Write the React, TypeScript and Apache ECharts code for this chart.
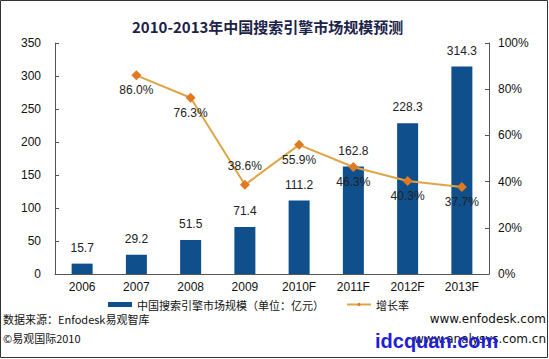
import React, { useEffect, useRef } from "react";
import * as echarts from "echarts";

const categories = ["2006", "2007", "2008", "2009", "2010F", "2011F", "2012F", "2013F"];
const marketSize = [15.7, 29.2, 51.5, 71.4, 111.2, 162.8, 228.3, 314.3];
const growthRate = [null, 86.0, 76.3, 38.6, 55.9, 46.3, 40.3, 37.7];
const growthLabelPos = ["bottom", "bottom", "bottom", "top", "bottom", "bottom", "bottom", "bottom"];
const leftTicks = [0, 50, 100, 150, 200, 250, 300, 350];
const rightTicks = [0, 20, 40, 60, 80, 100];

const FONT = "Liberation Sans, Arial, sans-serif";
const CJK = "Noto Sans CJK SC, sans-serif";
const WIDE = "DejaVu Sans, sans-serif";

export default function App() {
  const ref = useRef<HTMLDivElement>(null);
  useEffect(() => {
    const chart = echarts.init(ref.current!, null, { renderer: "svg" });
    chart.setOption({
      animation: false,
      backgroundColor: "#ffffff",
      title: {
        text: "2010-2013年中国搜索引擎市场规模预测",
        left: 127,
        top: 14,
        textStyle: { fontFamily: CJK, fontSize: 15, fontWeight: "bold", color: "#1c2248" },
      },
      grid: { left: 55, right: 60, top: 43, bottom: 85 },
      legend: {
        top: 294,
        left: 103,
        itemGap: 22,
        textStyle: { fontFamily: CJK, fontSize: 11, color: "#111" },
        data: [
          { name: "中国搜索引擎市场规模（单位：亿元）", icon: "rect", itemStyle: { color: "#0f4f8c" } },
          { name: "增长率" },
        ],
        itemWidth: 24,
        itemHeight: 5,
      },
      xAxis: {
        type: "category",
        data: categories,
        axisLine: { lineStyle: { color: "#555" } },
        axisTick: { inside: true, length: 4, lineStyle: { color: "#555" } },
        axisLabel: { fontFamily: FONT, fontSize: 12, color: "#111", margin: 7 },
      },
      yAxis: [
        {
          type: "value",
          min: leftTicks[0],
          max: leftTicks[leftTicks.length - 1],
          interval: 50,
          axisLine: { show: true, lineStyle: { color: "#555" } },
          axisTick: { show: true, inside: true, length: 4, lineStyle: { color: "#555" } },
          splitLine: { show: false },
          axisLabel: { fontFamily: FONT, fontSize: 12, color: "#111", margin: 14 },
        },
        {
          type: "value",
          min: rightTicks[0],
          max: rightTicks[rightTicks.length - 1],
          interval: 20,
          position: "right",
          axisLine: { show: true, lineStyle: { color: "#555" } },
          axisTick: { show: true, inside: true, length: 4, lineStyle: { color: "#555" } },
          splitLine: { show: false },
          axisLabel: { fontFamily: FONT, fontSize: 12, color: "#111", margin: 9, formatter: "{value}%" },
        },
      ],
      series: [
        {
          name: "中国搜索引擎市场规模（单位：亿元）",
          type: "bar",
          data: marketSize,
          barWidth: 21,
          itemStyle: { color: "#0f4f8c" },
          label: {
            show: true,
            position: "top",
            distance: 10,
            fontFamily: FONT,
            fontSize: 12,
            color: "#222",
          },
        },
        {
          name: "增长率",
          type: "line",
          yAxisIndex: 1,
          data: growthRate.map((v, i) =>
            v == null
              ? null
              : {
                  value: v,
                  label: {
                    position: growthLabelPos[i],
                    distance: growthLabelPos[i] === "top" ? 8 : 4,
                  },
                }
          ),
          lineStyle: { color: "#dfa544", width: 2 },
          symbol: "diamond",
          symbolSize: 10,
          itemStyle: { color: "#e07a22" },
          label: {
            show: true,
            fontFamily: FONT,
            fontSize: 12,
            color: "#222",
            formatter: (p: any) => Number(p.value).toFixed(1) + "%",
          },
          z: 5,
        },
      ],
      graphic: [
        {
          type: "rect",
          shape: { x: 0.5, y: 0.5, width: 547, height: 357 },
          style: { fill: "none", stroke: "#333", lineWidth: 1 },
          silent: true,
        },
        {
          type: "text",
          left: 3,
          top: 313,
          style: { text: "数据来源：Enfodesk易观智库", font: "11px " + CJK, fill: "#111" },
        },
        {
          type: "text",
          left: 3,
          top: 332,
          style: { text: "©易观国际2010", font: "11px " + CJK, fill: "#111" },
        },
        {
          type: "text",
          right: 3,
          top: 313,
          style: { text: "www.enfodesk.com", font: "12px " + WIDE, fill: "#111" },
        },
        {
          type: "text",
          right: 3,
          top: 333,
          style: { text: "www.analysys.com.cn", font: "12px " + WIDE, fill: "#111" },
        },
        {
          type: "text",
          left: 375,
          top: 331,
          style: { text: "idcquan.com", font: "bold 20px " + FONT, fill: "#1f1fd6" },
        },
      ],
    });
    return () => chart.dispose();
  }, []);
  return (
    <div
      ref={ref}
      style={{ position: "fixed", left: 0, top: 0, width: 549, height: 359 }}
    />
  );
}
